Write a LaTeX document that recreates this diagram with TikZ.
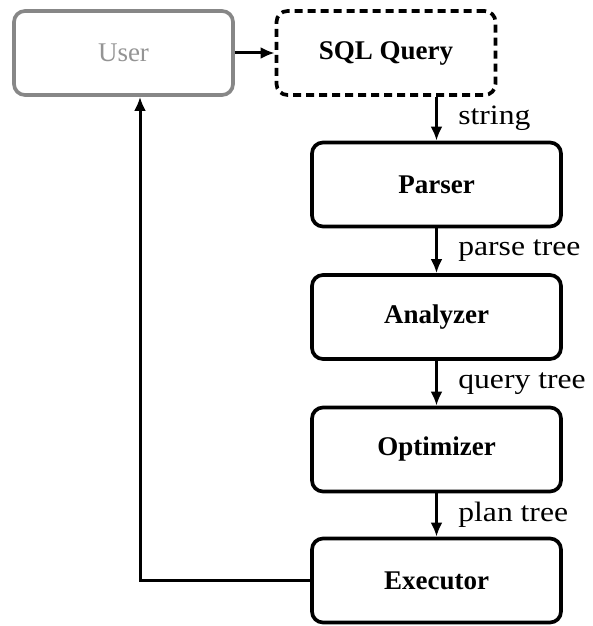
\documentclass[tikz,border=0pt]{standalone}
\usepackage{fontspec}
\setmainfont{Liberation Serif}
\newfontfamily\edgefont[FakeStretch=1.13]{Liberation Serif}
\usetikzlibrary{arrows.meta}

\begin{document}
\begin{tikzpicture}[x=1pt,y=-1pt,
  base/.style={line width=3.7pt, rounded corners=11pt, inner sep=0pt,
    font=\fontsize{27}{32}\selectfont},
  stage/.style={base, draw=black, minimum width=249pt, minimum height=84pt,
    font=\fontsize{27}{32}\selectfont\bfseries},
  topbox/.style={base, minimum width=219pt, minimum height=84pt},
  flow/.style={line width=3pt, -{Latex[length=14pt,width=12pt]}},
  edgelabel/.style={font=\edgefont\fontsize{28}{33}\selectfont, anchor=west, xshift=17pt}
]
\useasboundingbox (0,0) rectangle (592,626);

% top row: the user and the incoming query
\node[topbox, draw=black!47, text=black!42] (user) at (123.5,53) {User};
\node[topbox, draw=black, dash pattern=on 8pt off 5pt,
      font=\fontsize{27}{32}\selectfont\bfseries] (sql) at (386,53) {SQL Query};

% processing pipeline
\node[stage] (parser)    at (436.5,184.5) {Parser};
\node[stage] (analyzer)  at (436.5,317)   {Analyzer};
\node[stage] (optimizer) at (436.5,449.5) {Optimizer};
\node[stage] (executor)  at (436.5,580.5) {Executor};

\draw[flow] (user.east) -- (sql.west);
\draw[flow] (parser.north |- sql.south) -- (parser.north)
  node[edgelabel, midway] {string};
\draw[flow] (parser.south) -- (analyzer.north)
  node[edgelabel, midway] {parse tree};
\draw[flow] (analyzer.south) -- (optimizer.north)
  node[edgelabel, midway] {query tree};
\draw[flow] (optimizer.south) -- (executor.north)
  node[edgelabel, midway] {plan tree};

% results return to the user
\coordinate (ret) at ([xshift=16.5pt]user.south);
\draw[flow] (executor.west) -| (ret);
\end{tikzpicture}
\end{document}
